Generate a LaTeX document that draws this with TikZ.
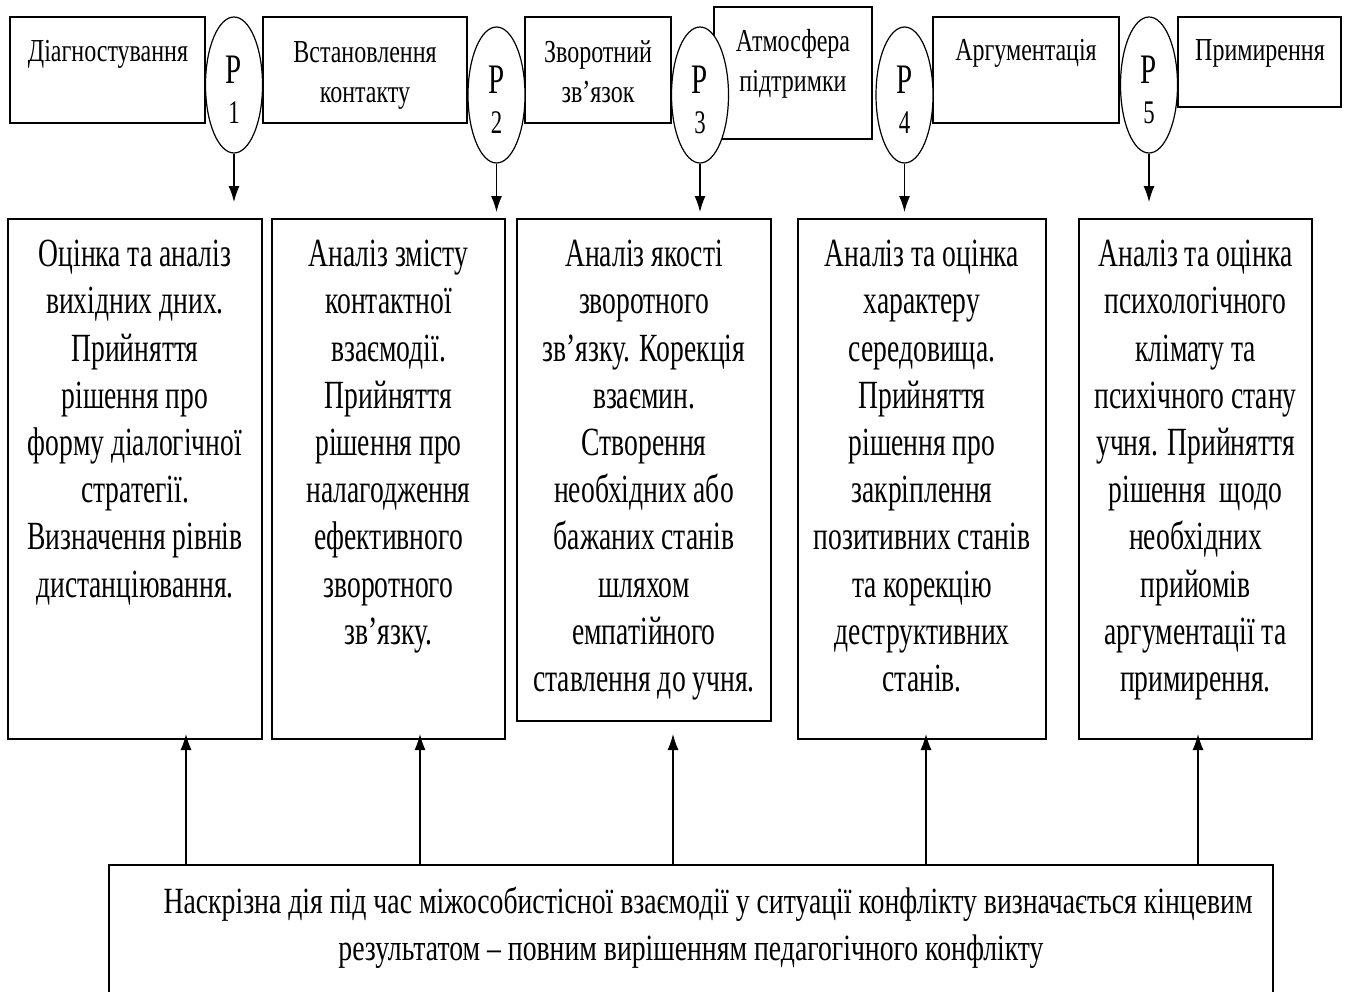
\documentclass[tikz,border=0pt]{standalone}
\usepackage{fontspec}
\setmainfont{Liberation Serif}[FakeStretch=0.69]
\newfontfamily\widefont{Liberation Serif}[FakeStretch=0.75]
\usetikzlibrary{arrows.meta,shapes.geometric}
\newcommand{\bigP}{{\fontsize{21}{20}\selectfont Р}}
\begin{document}
\begin{tikzpicture}[x=0.5pt,y=-0.5pt,
  frame/.style={draw, line width=0.6pt, fill=white, inner sep=0pt},
  pell/.style={draw, ellipse, line width=0.6pt, fill=white, inner sep=0pt, minimum width=28.5pt, minimum height=68pt},
  toptext/.style={font=\widefont\fontsize{16}{20}\selectfont, align=center, inner sep=0pt, anchor=base},
  ptext/.style={font=\fontsize{16.5}{20}\selectfont, align=center, inner sep=0pt, anchor=base},
  maintext/.style={font=\fontsize{20}{23.6}\selectfont, align=center, inner sep=0pt, anchor=base},
  bottext/.style={font=\widefont\fontsize{18.5}{23.5}\selectfont, align=center, inner sep=0pt, anchor=base},
  arr/.style={-{Latex[length=8pt,width=5.5pt]}, line width=0.6pt}]
\useasboundingbox (0,0) rectangle (1347,991);

% top boxes
\node[frame, minimum width=97.5pt, minimum height=53pt] (t1) at (107.5,70) {};
\node[frame, minimum width=102pt, minimum height=53pt] (t2) at (365,70) {};
\node[frame, minimum width=73pt, minimum height=53pt] (t3) at (598,70) {};
\node[frame, minimum width=79pt, minimum height=66pt] (t4) at (793,73) {};
\node[frame, minimum width=93pt, minimum height=53pt] (t5) at (1026,70) {};
\node[frame, minimum width=81.5pt, minimum height=45pt] (t6) at (1259.5,62) {};

% (anchor=base is the baseline of the last line)
\node[toptext] (tt1) at (108,61) {Діагностування};
\node[toptext] (tt2) at (365,102) {Встановлення\\контакту};
\node[toptext] (tt3) at (598,102) {Зворотний\\зв’язок};
\node[toptext] (tt4) at (793,91) {Атмосфера\\підтримки};
\node[toptext] (tt5) at (1026,60) {Аргументація};
\node[toptext] (tt6) at (1260,60) {Примирення};

% ellipses
\node[pell] (p1) at (234,85) {};
\node[pell] (p2) at (496.5,95) {};
\node[pell] (p3) at (700,95) {};
\node[pell] (p4) at (904.5,95) {};
\node[pell] (p5) at (1149,85) {};

\node[ptext] (pt1) at (234,123) {\bigP\\1};
\node[ptext] (pt2) at (496.5,133) {\bigP\\2};
\node[ptext] (pt3) at (700,133) {\bigP\\3};
\node[ptext] (pt4) at (904.5,133) {\bigP\\4};
\node[ptext] (pt5) at (1149,123) {\bigP\\5};

% main boxes
\node[frame, minimum width=127pt, minimum height=260pt] (m1) at (135,479) {};
\node[frame, minimum width=116.5pt, minimum height=260pt] (m2) at (388.5,479) {};
\node[frame, minimum width=127pt, minimum height=251pt] (m3) at (644,470) {};
\node[frame, minimum width=124pt, minimum height=260pt] (m4) at (922,479) {};
\node[frame, minimum width=116.5pt, minimum height=260pt] (m5) at (1195.5,479) {};

\node[maintext] (mt1) at (135,597) {Оцінка та аналіз\\вихідних дних.\\Прийняття\\рішення про\\форму діалогічної\\стратегії.\\Визначення рівнів\\дистанціювання.};
\node[maintext] (mt2) at (388.5,644.2) {Аналіз змісту\\контактної\\взаємодії.\\Прийняття\\рішення про\\налагодження\\ефективного\\зворотного\\зв’язку.};
\node[maintext] (mt3) at (644,691.4) {Аналіз якості\\зворотного\\зв’язку. Корекція\\взаємин.\\Створення\\необхідних або\\бажаних станів\\шляхом\\емпатійного\\ставлення до учня.};
\node[maintext] (mt4) at (922,691.4) {Аналіз та оцінка\\характеру\\середовища.\\Прийняття\\рішення про\\закріплення\\позитивних станів\\та корекцію\\деструктивних\\станів.};
\node[maintext] (mt5) at (1195.5,691.4) {Аналіз та оцінка\\психологічного\\клімату та\\психічного стану\\учня. Прийняття\\рішення~ щодо\\необхідних\\прийомів\\аргументації та\\примирення.};

% bottom box
\node[frame, minimum width=582pt, minimum height=65pt] (bot) at (691,930) {};
\node[bottext] (bt) at (691,960) {\hspace*{17pt}Наскрізна дія під час міжособистісної взаємодії у ситуації конфлікту визначається кінцевим\\результатом – повним вирішенням педагогічного конфлікту};

% arrows from ellipses
\coordinate (d1) at (234,202);
\coordinate (d2) at (496.5,212);
\coordinate (d3) at (700,212);
\coordinate (d4) at (904.5,212);
\coordinate (d5) at (1149,202);
\draw[arr] (p1.south) -- (d1);
\draw[arr] (p2.south) -- (d2);
\draw[arr] (p3.south) -- (d3);
\draw[arr] (p4.south) -- (d4);
\draw[arr] (p5.south) -- (d5);

% arrows from bottom box
\coordinate (u1) at (186,734);
\coordinate (u2) at (420,734);
\coordinate (u3) at (673,734);
\coordinate (u4) at (926,734);
\coordinate (u5) at (1198,734);
\foreach \i in {1,...,5} \draw[arr] (u\i |- bot.north) -- (u\i);
\end{tikzpicture}
\end{document}
